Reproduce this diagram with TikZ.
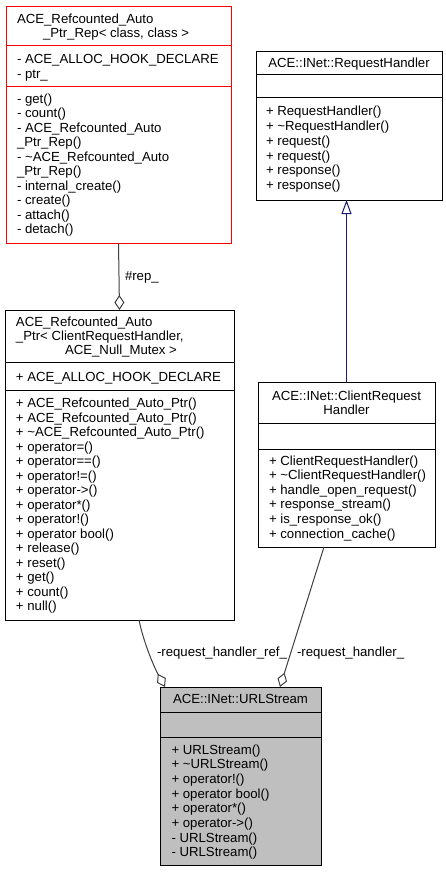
\documentclass[tikz,border=0pt]{standalone}
\usepackage{fontspec}
\setmainfont{Liberation Sans}
\usetikzlibrary{arrows.meta}
\definecolor{edgegray}{HTML}{404040}
\definecolor{inhblue}{HTML}{191970}
\definecolor{boxgray}{HTML}{BFBFBF}
\newcommand\umlrows[5]{%
  \foreach \t [count=\i] in {#5} {\node[txt] (#1\i) at (#2, {#3+(\i-1)*#4}) {\t};}%
}
\begin{document}
\begin{tikzpicture}[x=1pt,y=-1pt,
  txt/.style={font=\fontsize{13.2}{14.6}\selectfont, inner sep=0pt, outer sep=0pt, anchor=base west},
  ctxt/.style={txt, anchor=base},
  umlbox/.style={draw=black, line width=1pt, inner sep=0pt, outer sep=0pt, anchor=north west, fill=white},
  sepline/.style={line width=1pt},
  assoc/.style={draw=edgegray, line width=1pt, -{Diamond[open, length=15pt, width=10pt, line width=1pt]}},
  inherit/.style={draw=inhblue, line width=1pt, -{Triangle[open, length=14pt, width=10pt, line width=1pt]}}
]
\useasboundingbox (0,0) rectangle (445,872);
\fill[white] (0,0) rectangle (445,872);

% Box A: ACE_Refcounted_Auto_Ptr_Rep
\node[umlbox, draw=red, minimum width=225pt, minimum height=236pt] (A) at (6,7) {};
\draw[sepline, red] (A.west |- 0,46) -- (A.east |- 0,46);
\draw[sepline, red] (A.west |- 0,87) -- (A.east |- 0,87);
\node[txt] (At1) at (17,23.3) {ACE\_Refcounted\_Auto};
\node[txt] (At2) at (43,37.6) {\_Ptr\_Rep< class, class >};
\umlrows{Aa}{17}{64}{14.5}{- ACE\_ALLOC\_HOOK\_DECLARE, - ptr\_}
\umlrows{Am}{17}{103}{14.55}{- get(), - count(), - ACE\_Refcounted\_Auto, \_Ptr\_Rep(), - \textasciitilde ACE\_Refcounted\_Auto, \_Ptr\_Rep(), - internal\_create(), - create(), - attach(), - detach()}

% Box B: RequestHandler
\node[umlbox, minimum width=186pt, minimum height=148pt] (B) at (256,52) {};
\draw[sepline] (B.west |- 0,75) -- (B.east |- 0,75);
\draw[sepline] (B.west |- 0,97.5) -- (B.east |- 0,97.5);
\node[ctxt] (Bt) at (349,68) {ACE::INet::RequestHandler};
\umlrows{Bm}{266}{115.7}{14.8}{+ RequestHandler(), + \textasciitilde RequestHandler(), + request(), + request(), + response(), + response()}

% Box C: ACE_Refcounted_Auto_Ptr
\node[umlbox, minimum width=229pt, minimum height=310pt] (C) at (5,310) {};
\draw[sepline] (C.west |- 0,362) -- (C.east |- 0,362);
\draw[sepline] (C.west |- 0,390) -- (C.east |- 0,390);
\node[txt] (Ct1) at (16,326) {ACE\_Refcounted\_Auto};
\node[txt] (Ct2) at (16,340.3) {\_Ptr< ClientRequestHandler,};
\node[txt] (Ct3) at (65,354.6) {ACE\_Null\_Mutex >};
\umlrows{Ca}{16}{381}{14.5}{+ ACE\_ALLOC\_HOOK\_DECLARE}
\umlrows{Cm}{16}{407.5}{14.5}{+ ACE\_Refcounted\_Auto\_Ptr(), + ACE\_Refcounted\_Auto\_Ptr(), + \textasciitilde ACE\_Refcounted\_Auto\_Ptr(), + operator=(), + operator==(), + operator!=(), + operator->(), + operator*(), + operator!(), + operator bool(), + release(), + reset(), + get(), + count(), + null()}

% Box D: ClientRequestHandler
\node[umlbox, minimum width=177pt, minimum height=165pt] (D) at (258,382) {};
\draw[sepline] (D.west |- 0,423) -- (D.east |- 0,423);
\draw[sepline] (D.west |- 0,449) -- (D.east |- 0,449);
\node[ctxt] (Dt1) at (346.5,400) {ACE::INet::ClientRequest};
\node[ctxt] (Dt2) at (346.5,414.6) {Handler};
\umlrows{Dm}{269}{465}{14.6}{+ ClientRequestHandler(), + \textasciitilde ClientRequestHandler(), + handle\_open\_request(), + response\_stream(), + is\_response\_ok(), + connection\_cache()}

% Box E: URLStream
\node[umlbox, fill=boxgray, minimum width=161pt, minimum height=178.5pt] (E) at (160,687) {};
\draw[sepline] (E.west |- 0,712) -- (E.east |- 0,712);
\draw[sepline] (E.west |- 0,737) -- (E.east |- 0,737);
\node[ctxt] (Et) at (240.5,703.5) {ACE::INet::URLStream};
\umlrows{Em}{171.5}{754}{14.67}{+ URLStream(), + \textasciitilde URLStream(), + operator!(), + operator bool(), + operator*(), + operator->(), - URLStream(), - URLStream()}

% Connectors
\draw[assoc] (A.south) -- (C.north);
\node[txt] (Lrep) at (125,280) {\#rep\_};

\draw[inherit] (D.north) -- (D.north |- B.south);

\draw[assoc] ([xshift=134pt]C.south west) .. controls ([xshift=138pt,yshift=-20pt]C.south west) and ([xshift=148pt,yshift=-45pt]C.south west) .. ([xshift=5pt]E.north west);
\node[txt] (Lref) at (157,656) {-request\_handler\_ref\_};

\draw[assoc] ([xshift=66pt]D.south west) -- ([xshift=120pt]E.north west);
\node[txt] (Lhand) at (297,656) {-request\_handler\_};
\end{tikzpicture}
\end{document}
